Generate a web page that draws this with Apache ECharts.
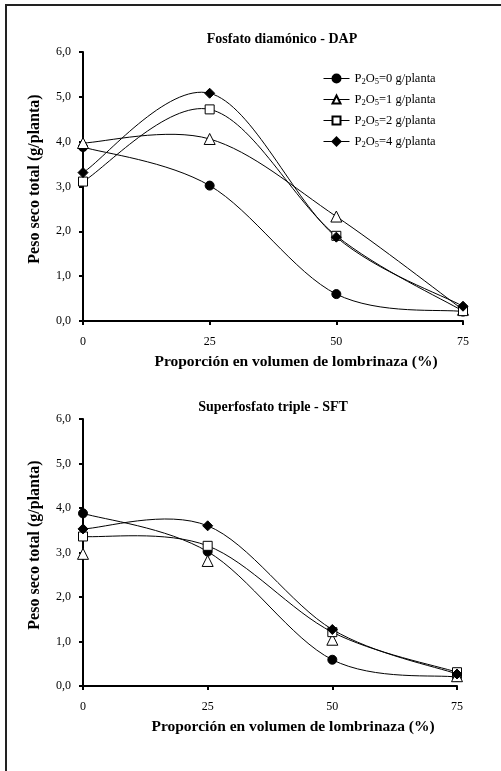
<!DOCTYPE html>
<html>
<head>
<meta charset="utf-8">
<script src="https://cdn.jsdelivr.net/npm/echarts@6/dist/echarts.min.js"></script>
<style>
html,body{margin:0;padding:0;background:#fff;}
#chart{width:501px;height:771px;}
</style>
</head>
<body>
<div id="chart"></div>
<script>
// ---- data ----
var proportions = [0, 25, 50, 75];
var seriesNames = ['P2O5=0 g/planta', 'P2O5=1 g/planta', 'P2O5=2 g/planta', 'P2O5=4 g/planta'];
var dapP0 = [3.88, 3.02, 0.60, 0.21];
var dapP1 = [3.97, 4.06, 2.33, 0.25];
var dapP2 = [3.11, 4.72, 1.90, 0.22];
var dapP4 = [3.31, 5.08, 1.87, 0.33];
var sftP0 = [3.88, 3.02, 0.59, 0.20];
var sftP1 = [2.97, 2.81, 1.04, 0.22];
var sftP2 = [3.36, 3.15, 1.21, 0.31];
var sftP4 = [3.53, 3.60, 1.27, 0.27];
var yTicks = [0, 1, 2, 3, 4, 5, 6];
var titles = ['Fosfato diamónico - DAP', 'Superfosfato triple - SFT'];
var xName = 'Proporción en volumen de lombrinaza (%)';
var yName = 'Peso seco total (g/planta)';

var FONT = '"Liberation Serif","Times New Roman",serif';
var chart = echarts.init(document.getElementById('chart'));

var markers = [
  {symbol: 'circle', size: 9, fill: '#000'},
  {symbol: 'triangle', size: 11, fill: '#fff'},
  {symbol: 'rect', size: 9, fill: '#fff'},
  {symbol: 'diamond', size: 10, fill: '#000'}
];

function pairs(vals) { return proportions.map(function (x, i) { return [x, vals[i]]; }); }

// Spreadsheet-style smoothed curve (Catmull-Rom bezier), positions via the axes' scales
function curveItem(params, api) {
  var i = params.dataIndexInside, n = params.dataInsideLength;
  if (i === 0) return {type: 'group', children: []};
  function pt(j) {
    j = Math.max(0, Math.min(n - 1, j));
    return api.coord([api.value(0, j), api.value(1, j)]);
  }
  var a = pt(i - 2), b = pt(i - 1), c = pt(i), d = pt(i + 1);
  return {
    type: 'bezierCurve',
    shape: {
      x1: b[0], y1: b[1], x2: c[0], y2: c[1],
      cpx1: b[0] + (c[0] - a[0]) / 6, cpy1: b[1] + (c[1] - a[1]) / 6,
      cpx2: c[0] - (d[0] - b[0]) / 6, cpy2: c[1] - (d[1] - b[1]) / 6
    },
    style: {stroke: '#000', lineWidth: 1, fill: null},
    silent: true
  };
}

function mkSeries(gi, arrs, withCurve) {
  var out = [];
  arrs.forEach(function (vals, k) {
    if (withCurve[k]) {
      out.push({
        name: 'curve-' + gi + '-' + k,
        type: 'custom', xAxisIndex: gi, yAxisIndex: gi,
        data: pairs(vals), encode: {x: 0, y: 1},
        renderItem: curveItem, z: 2, silent: true
      });
    }
    out.push({
      name: seriesNames[k],
      type: 'line',
      xAxisIndex: gi, yAxisIndex: gi,
      data: pairs(vals),
      symbol: markers[k].symbol,
      symbolSize: markers[k].size,
      showAllSymbol: true,
      lineStyle: {color: '#000', width: 1, opacity: 0},
      itemStyle: {color: markers[k].fill, borderColor: '#000', borderWidth: 1},
      emphasis: {disabled: true},
      z: 3 + k
    });
  });
  return out;
}

function mkX(gi) {
  return {
    type: 'value', gridIndex: gi, min: 0, max: 75, interval: 25,
    name: xName, nameLocation: 'middle', nameGap: 33,
    nameTextStyle: {fontFamily: FONT, fontWeight: 'bold', fontSize: 15.5, color: '#000', padding: [0, 0, 0, 46]},
    axisLine: {show: true, onZero: false, lineStyle: {color: '#000', width: 2}},
    axisTick: {show: true, length: 4, lineStyle: {color: '#000', width: 2}},
    axisLabel: {fontFamily: FONT, fontSize: 12, color: '#000', margin: 15},
    splitLine: {show: false}
  };
}
function mkY(gi) {
  return {
    type: 'value', gridIndex: gi, min: yTicks[0], max: yTicks[yTicks.length - 1], interval: 1,
    name: yName, nameLocation: 'middle', nameGap: 40,
    nameTextStyle: {fontFamily: FONT, fontWeight: 'bold', fontSize: 16, color: '#000', padding: [0, 0, 0, 15]},
    axisLine: {show: true, lineStyle: {color: '#000', width: 2}},
    axisTick: {show: true, length: 4, lineStyle: {color: '#000', width: 2}},
    axisLabel: {fontFamily: FONT, fontSize: 12, color: '#000', margin: 12,
      formatter: function (v) { return v.toFixed(1).replace('.', ','); }},
    splitLine: {show: false}
  };
}

chart.setOption({
  animation: false,
  backgroundColor: '#fff',
  grid: [
    {left: 83, top: 52, width: 380, height: 269},
    {left: 83, top: 419, width: 374, height: 267}
  ],
  xAxis: [mkX(0), mkX(1)],
  yAxis: [mkY(0), mkY(1)],
  legend: {
    data: seriesNames,
    orient: 'vertical',
    left: 323, top: 72, padding: 0,
    itemWidth: 26, itemHeight: 10, itemGap: 7,
    selectedMode: false,
    lineStyle: {color: '#000', width: 1, opacity: 1},
    textStyle: {
      fontFamily: FONT, fontSize: 12.5, color: '#000',
      rich: {
        n: {fontFamily: FONT, fontSize: 12.5, color: '#000'},
        s: {fontFamily: FONT, fontSize: 8.5, color: '#000', padding: [6, 0, 0, 0]}
      }
    },
    formatter: function (name) {
      return '{n|P}{s|2}{n|O}{s|5}{n|' + name.replace('P2O5', '') + '}';
    }
  },
  graphic: [
    {type: 'rect', shape: {x: 6, y: 5, width: 600, height: 900},
      style: {fill: 'none', stroke: '#222', lineWidth: 2}, silent: true},
    {type: 'text', x: 282, y: 39, style: {text: titles[0], textAlign: 'center', textVerticalAlign: 'middle',
      font: 'bold 14px ' + FONT, fill: '#000'}},
    {type: 'text', x: 273, y: 407, style: {text: titles[1], textAlign: 'center', textVerticalAlign: 'middle',
      font: 'bold 14px ' + FONT, fill: '#000'}}
  ],
  series: mkSeries(0, [dapP0, dapP1, dapP2, dapP4], [true, true, true, true])
    .concat(mkSeries(1, [sftP0, sftP1, sftP2, sftP4], [true, false, true, true]))
});
</script>
</body>
</html>
